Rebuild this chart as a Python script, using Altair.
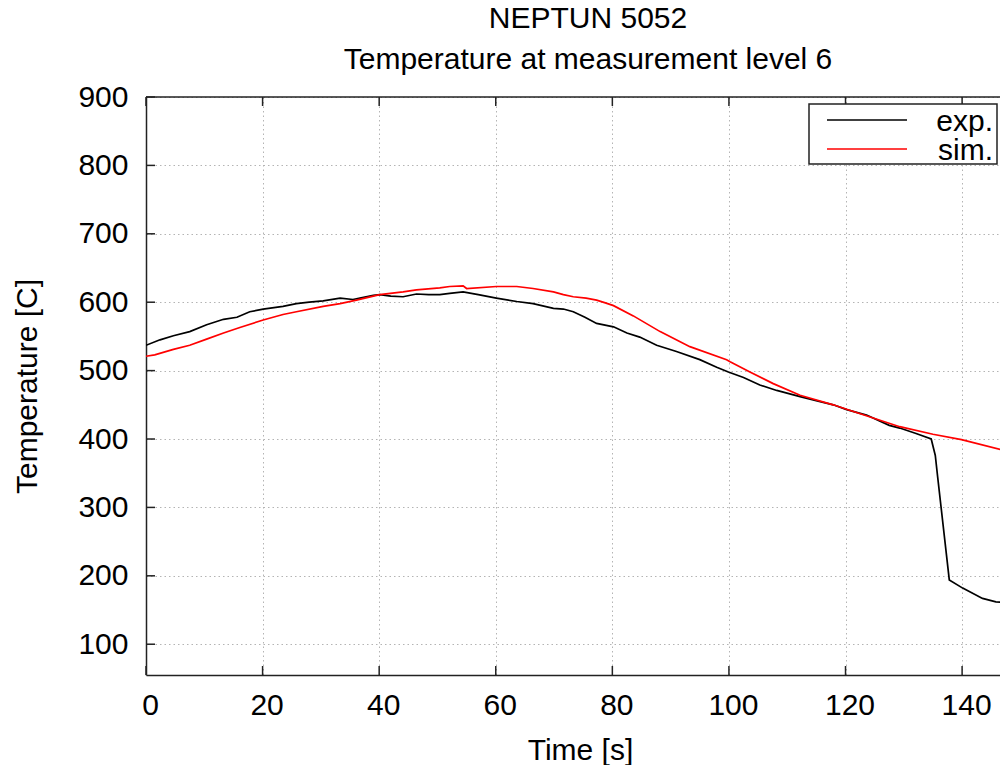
import altair as alt
import pandas as pd

# ---- data ----
exp_t = [0, 2.4, 4.7, 7.5, 10.4, 13.3, 15.6, 17.8, 20.1, 23.5, 25.8, 28, 30.4, 33.3, 35.5, 36.7,
         39, 40.1, 42, 44.1, 46.4, 48.5, 50.4, 52.1, 54.4, 57, 60.1, 63.6, 66.4, 69.9, 71.6, 73.3,
         75.3, 77.3, 80.2, 82.5, 84.7, 87.6, 91, 95, 97.9, 99.9, 102.5, 105.3, 108.2, 112.2, 117.9,
         120.2, 123.6, 127.5, 129.3, 132.1, 134.7, 135.4, 135.8, 137.8, 140.1, 143.5, 145.8, 147.8]
exp_T = [537, 545, 551, 557, 567, 575, 578, 586, 590, 594, 598, 600, 602, 606, 604, 606,
         610, 611, 609, 608, 612, 611, 611, 613, 615, 611, 606, 601, 598, 591, 590, 586,
         578, 569, 564, 555, 549, 537, 528, 516, 505, 498, 490, 479, 471, 462, 450,
         443, 435, 420, 416, 408, 400, 376, 345, 194, 182, 167, 162, 161]

sim_t = [0, 1.5, 4.7, 7.5, 10.4, 13.3, 16.1, 20.1, 23.5, 25.8, 30.4, 33.3, 36.1, 39, 40.1, 44.1,
         46.4, 50.4, 52.1, 54.4, 55, 60.1, 63.6, 66.4, 69.9, 71.6, 73.3, 75.5, 77.3, 78.8, 80.2,
         83.6, 88.2, 93.3, 99.6, 100.2, 103.6, 107.6, 112.2, 117.9, 120.7, 129.3, 135, 139.9, 147.8]
sim_T = [521, 523, 531, 537, 546, 555, 563, 574, 582, 586, 594, 598, 603, 609, 611, 615,
         618, 621, 623, 624, 620, 623, 623, 620, 615, 611, 608, 606, 603, 599, 595,
         580, 557, 535, 516, 513, 498, 481, 464, 450, 442, 418, 407, 399, 382]

series_names = ["exp.", "sim."]
series_colors = ["#000000", "#ff0000"]
x_ticks = [0, 20, 40, 60, 80, 100, 120, 140]
y_ticks = [100, 200, 300, 400, 500, 600, 700, 800, 900]

title_lines = ["NEPTUN 5052", "Temperature at measurement level 6"]
x_title = "Time [s]"
y_title = "Temperature [C]"

# ---- tables ----
df = pd.concat([
    pd.DataFrame({"t": exp_t, "T": exp_T, "s": series_names[0]}),
    pd.DataFrame({"t": sim_t, "T": sim_T, "s": series_names[1]}),
], ignore_index=True)
xt = pd.DataFrame({"v": x_ticks})
yt = pd.DataFrame({"v": y_ticks})
one = pd.DataFrame({"k": [0]})

W, H = 854, 578
FONT = "Liberation Sans"
FS = 30
AX = "#222222"

xscale = alt.Scale(domain=[0, 146.5], nice=False, zero=False)
yscale = alt.Scale(domain=[55, 900], nice=False, zero=False)

lines = alt.Chart(df).mark_line(strokeWidth=1.7, clip=True).encode(
    x=alt.X("t:Q", scale=xscale, title=x_title,
            axis=alt.Axis(values=x_ticks, grid=True, ticks=False, labelOffset=4, labelFlush=False,
                          labelPadding=15, titlePadding=15, titleX=434, format="d")),
    y=alt.Y("T:Q", scale=yscale, title=y_title,
            axis=alt.Axis(values=y_ticks, grid=True, ticks=False, labelPadding=18, labelFlush=False,
                          titlePadding=35, format="d")),
    color=alt.Color("s:N", scale=alt.Scale(domain=series_names, range=series_colors), legend=None),
)

ytick_marks = alt.Chart(yt).mark_rule(color=AX, strokeWidth=1.5).encode(
    y=alt.Y("v:Q", scale=yscale), x=alt.value(0), x2=alt.value(9))
xtick_bottom = alt.Chart(xt).mark_rule(color=AX, strokeWidth=1.5).encode(
    x=alt.X("v:Q", scale=xscale), y=alt.value(H), y2=alt.value(H - 9))
xtick_top = alt.Chart(xt).mark_rule(color=AX, strokeWidth=1.5).encode(
    x=alt.X("v:Q", scale=xscale), y=alt.value(0), y2=alt.value(9))
top_border = alt.Chart(one).mark_rule(color=AX, strokeWidth=1.5).encode(
    x=alt.value(0), x2=alt.value(W), y=alt.value(0))

# legend (drawn manually, gnuplot style)
leg_box = alt.Chart(one).mark_rect(fill="white", stroke=AX, strokeWidth=1.5).encode(
    x=alt.value(663), x2=alt.value(851), y=alt.value(7), y2=alt.value(67))
leg_layers = []
for i, (name, col) in enumerate(zip(series_names, series_colors)):
    yy = 23 + 29 * i
    leg_layers.append(alt.Chart(one).mark_rule(color=col, strokeWidth=1.5).encode(
        x=alt.value(681), x2=alt.value(761), y=alt.value(yy)))
    leg_layers.append(alt.Chart(one).mark_text(
        text=name, align="right", baseline="middle", font=FONT, fontSize=FS, color="black").encode(
        x=alt.value(847), y=alt.value(yy + 2)))

chart = alt.layer(lines, ytick_marks, xtick_bottom, xtick_top, top_border, leg_box, *leg_layers).properties(
    width=W, height=H,
    title=alt.Title(title_lines, fontSize=FS, font=FONT, fontWeight="normal", color="black",
                    lineHeight=41, dx=15, offset=7),
    autosize=alt.AutoSizeParams(type="none"),
    padding={"left": 138, "top": 89, "right": 0, "bottom": 90},
).configure_view(stroke=None).configure_axis(
    labelFont=FONT, titleFont=FONT, labelFontSize=FS, titleFontSize=FS,
    labelColor="black", titleColor="black", titleFontWeight="normal",
    domainColor=AX, domainWidth=1.5,
    gridColor="#b4b4b4", gridDash=[1.5, 3], gridWidth=1,
)

chart.save("out.html", embed_options={"renderer": "svg", "actions": False})
